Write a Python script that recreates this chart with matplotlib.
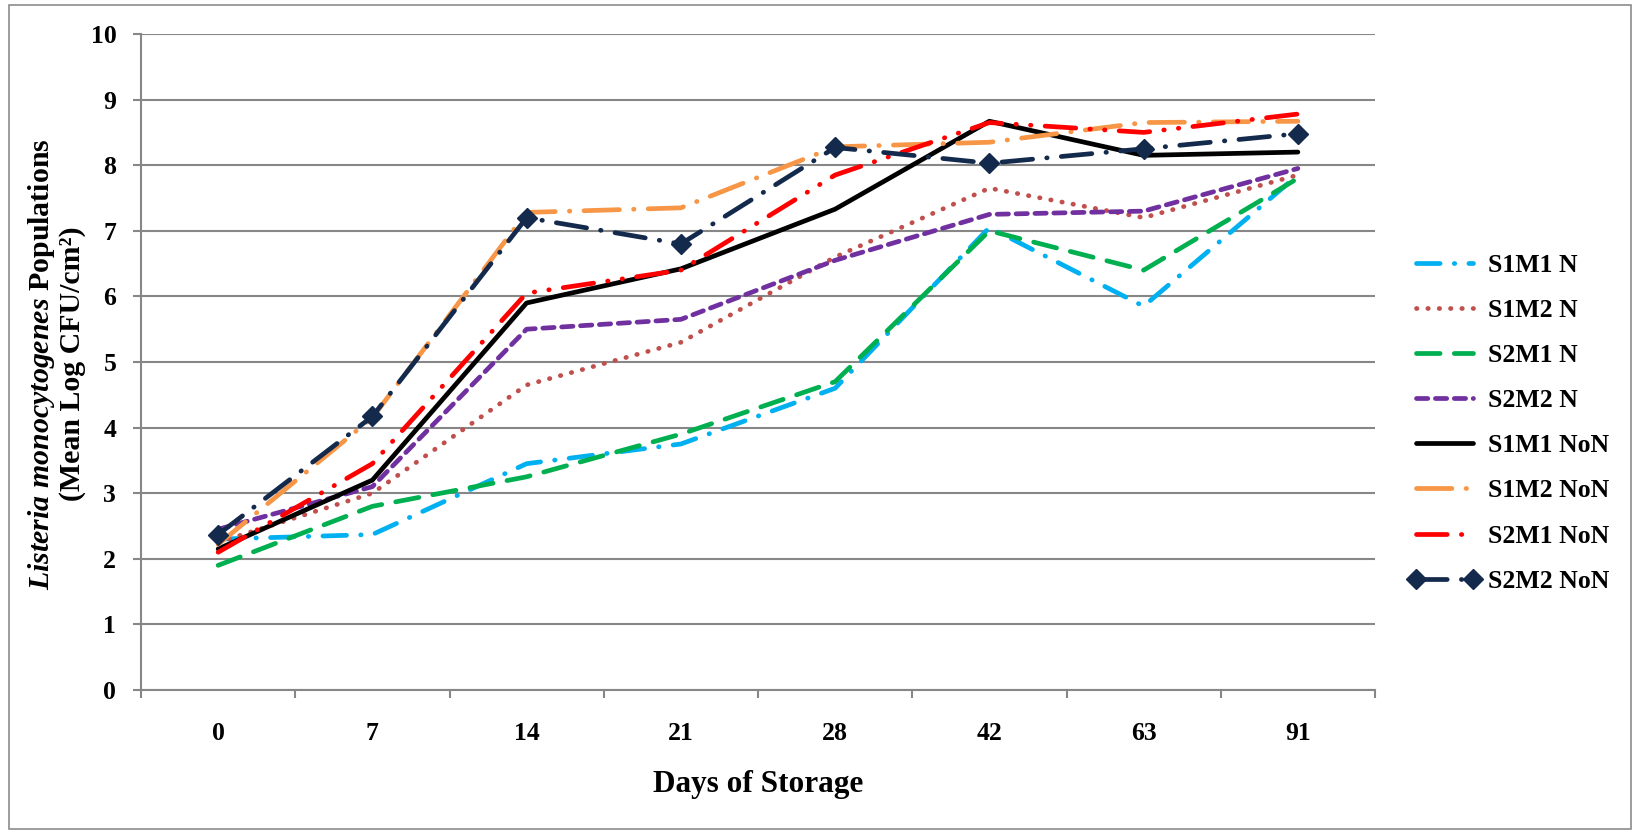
import numpy as np
import matplotlib.pyplot as plt
from matplotlib.patches import Rectangle

plt.rcParams['font.family'] = ['Liberation Serif', 'DejaVu Serif']
plt.rcParams['mathtext.fontset'] = 'custom'
plt.rcParams['mathtext.rm'] = 'Liberation Serif:bold'
plt.rcParams['mathtext.it'] = 'Liberation Serif:italic:bold'
plt.rcParams['mathtext.bf'] = 'Liberation Serif:bold'

days = ['0', '7', '14', '21', '28', '42', '63', '91']

s1m1_n = [2.30, 2.37, 3.45, 3.75, 4.60, 7.05, 5.85, 7.85]
s1m2_n = [2.25, 3.00, 4.65, 5.30, 6.60, 7.65, 7.20, 7.85]
s2m1_n = [1.90, 2.80, 3.25, 3.90, 4.70, 7.00, 6.40, 7.80]
s2m2_n = [2.45, 3.10, 5.50, 5.65, 6.55, 7.25, 7.30, 7.95]
s1m1_non = [2.15, 3.20, 5.90, 6.42, 7.33, 8.67, 8.15, 8.20]
s1m2_non = [2.22, 4.15, 7.28, 7.35, 8.28, 8.35, 8.65, 8.67]
s2m1_non = [2.10, 3.45, 6.05, 6.40, 7.85, 8.65, 8.50, 8.78]
s2m2_non = [2.37, 4.17, 7.20, 6.80, 8.27, 8.03, 8.25, 8.48]

x = np.arange(len(days))
W, H = 1637, 833

fig = plt.figure(figsize=(W / 100, H / 100), dpi=100)
ax = fig.add_axes([141 / W, 1 - 690 / H, (1375 - 141) / W, (690 - 34) / H])

# grey frame round the whole chart
fig.patches.append(Rectangle((9 / W, 4 / H), 1622 / W, 824 / H, transform=fig.transFigure,
                             fill=False, edgecolor='#8c8c8c', linewidth=1.2))

lw = 3.4
ax.plot(x, s1m1_n, color='#00B0F0', lw=lw, dashes=(5, 3, 0.1, 3), dash_capstyle='round', label='S1M1 N')
ax.plot(x, s1m2_n, color='#C0504D', lw=lw, dashes=(0.1, 2.3), dash_capstyle='round', label='S1M2 N')
ax.plot(x, s2m1_n, color='#00B050', lw=lw, dashes=(5, 3), dash_capstyle='round', label='S2M1 N')
ax.plot(x, s2m2_n, color='#7030A0', lw=lw, dashes=(2.4, 1.6), dash_capstyle='round', label='S2M2 N')
ax.plot(x, s1m1_non, color='black', lw=lw, solid_capstyle='round', label='S1M1 NoN')
ax.plot(x, s1m2_non, color='#F79646', lw=lw, dashes=(7.5, 3, 0.1, 3), dash_capstyle='round', label='S1M2 NoN')
ax.plot(x, s2m1_non, color='#FF0000', lw=lw, dashes=(6.5, 3, 0.1, 3, 0.1, 3), dash_capstyle='round',
        label='S2M1 NoN')
ax.plot(x, s2m2_non, color='#142A4C', lw=lw, dashes=(6.5, 3, 0.1, 3), dash_capstyle='round',
        marker='D', markersize=10, label='S2M2 NoN')

ax.set_xlim(-0.5, 7.5)
ax.set_ylim(0, 10)
ax.set_yticks(range(0, 11))
ax.set_xticks(x)
ax.set_xticklabels(days)
ax.set_xticks(np.arange(-0.5, 8, 1), minor=True)
ax.tick_params(axis='x', which='major', length=0, pad=23, labelsize=18.5)
ax.tick_params(axis='x', which='minor', length=5.8, width=1.5, color='#878787')
ax.tick_params(axis='y', length=5.8, width=1.5, color='#878787', pad=12, labelsize=18.5)
for lab in ax.get_xticklabels() + ax.get_yticklabels():
    lab.set_fontweight('bold')

ax.grid(axis='y', color='#878787', linewidth=1.5)
ax.set_axisbelow(True)
for s in ['top', 'right']:
    ax.spines[s].set_visible(False)
for s in ['left', 'bottom']:
    ax.spines[s].set_color('#878787')
    ax.spines[s].set_linewidth(1.5)

ax.set_xlabel('Days of Storage', fontsize=22.5, fontweight='bold')
ax.xaxis.set_label_coords(0.5, (690 - 770) / 656)

fig.text(56 / W, 1 - 364 / H,
         '$\\mathit{Listeria\\ monocytogenes}$ Populations\n(Mean Log CFU/cm²)',
         rotation=90, ha='center', va='center', fontsize=21.5, fontweight='bold',
         linespacing=1.05, multialignment='center')

ax.legend(loc='upper left', bbox_to_anchor=(1408 / W, 1 - 254 / H), bbox_transform=fig.transFigure,
          frameon=False, borderpad=0, borderaxespad=0, handlelength=2.84, handletextpad=0.27,
          labelspacing=0.86, numpoints=2, prop={'weight': 'bold', 'size': 18.5})

fig.savefig('out.png', dpi=100)
